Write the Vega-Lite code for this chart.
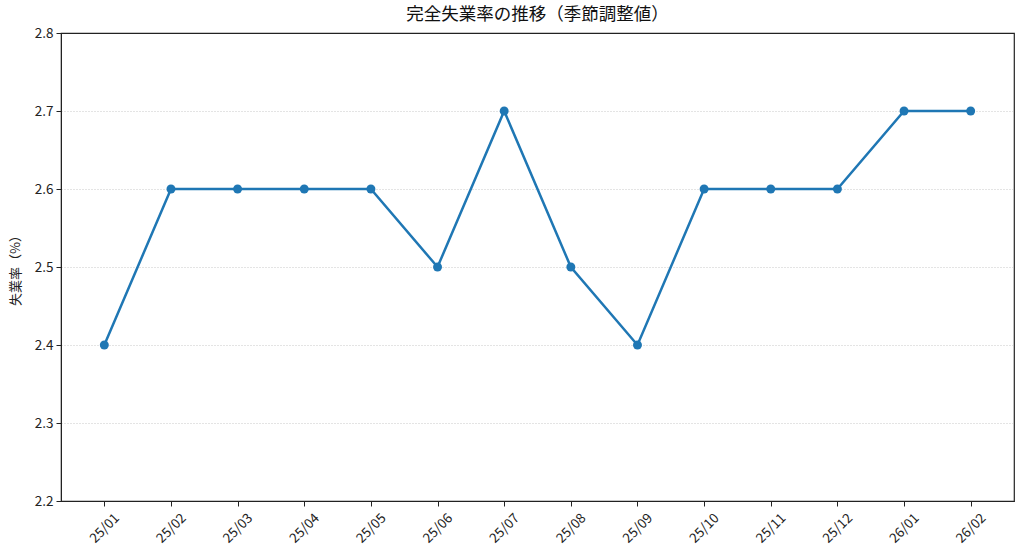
{
  "$schema": "https://vega.github.io/schema/vega-lite/v6.json",
  "autosize": {"type": "none"},
  "padding": {"left": 61, "top": 33, "right": 10, "bottom": 58},
  "width": 953,
  "height": 468,
  "background": "white",
  "config": {
    "font": "Noto Sans CJK JP",
    "view": {"stroke": "#222222", "strokeWidth": 1.2},
    "axis": {"labelFont": "Noto Sans CJK JP", "titleFont": "Noto Sans CJK JP", "labelColor": "#222", "titleColor": "#222", "domainColor": "#222", "tickColor": "#222"}
  },
  "title": {"text": "完全失業率の推移（季節調整値）", "fontSize": 17.5, "fontWeight": "normal", "color": "#111", "offset": 3, "font": "Noto Sans CJK JP"},
  "data": {"values": [
    {"month": "25/01", "rate": 2.4},
    {"month": "25/02", "rate": 2.6},
    {"month": "25/03", "rate": 2.6},
    {"month": "25/04", "rate": 2.6},
    {"month": "25/05", "rate": 2.6},
    {"month": "25/06", "rate": 2.5},
    {"month": "25/07", "rate": 2.7},
    {"month": "25/08", "rate": 2.5},
    {"month": "25/09", "rate": 2.4},
    {"month": "25/10", "rate": 2.6},
    {"month": "25/11", "rate": 2.6},
    {"month": "25/12", "rate": 2.6},
    {"month": "26/01", "rate": 2.7},
    {"month": "26/02", "rate": 2.7}
  ]},
  "encoding": {
    "x": {"field": "month", "type": "ordinal", "sort": null, "scale": {"type": "point", "padding": 0.65},
      "axis": {"title": null, "labelAngle": -45, "labelAlign": "center", "labelBaseline": "middle", "labelFontSize": 13.5, "tickSize": 5, "labelPadding": 22, "grid": false, "domain": true}},
    "y": {"field": "rate", "type": "quantitative", "scale": {"domain": [2.2, 2.8], "nice": false, "zero": false},
      "axis": {"title": "失業率（%）", "titleFontSize": 13, "titleFontWeight": "normal", "titlePadding": 12, "values": [2.2, 2.3, 2.4, 2.5, 2.6, 2.7, 2.8], "format": ".1f", "labelFontSize": 13.5, "tickSize": 5, "labelPadding": 3, "grid": true, "gridDash": [1, 2], "gridColor": "#bbbbbb",
        "gridOpacity": {"condition": {"test": "datum.value >= 2.79 || datum.value <= 2.21", "value": 0}, "value": 0.8}}}
  },
  "layer": [
    {"mark": {"type": "line", "color": "#1f77b4", "strokeWidth": 2.5}},
    {"mark": {"type": "point", "filled": true, "color": "#1f77b4", "size": 80, "opacity": 1}}
  ]
}
